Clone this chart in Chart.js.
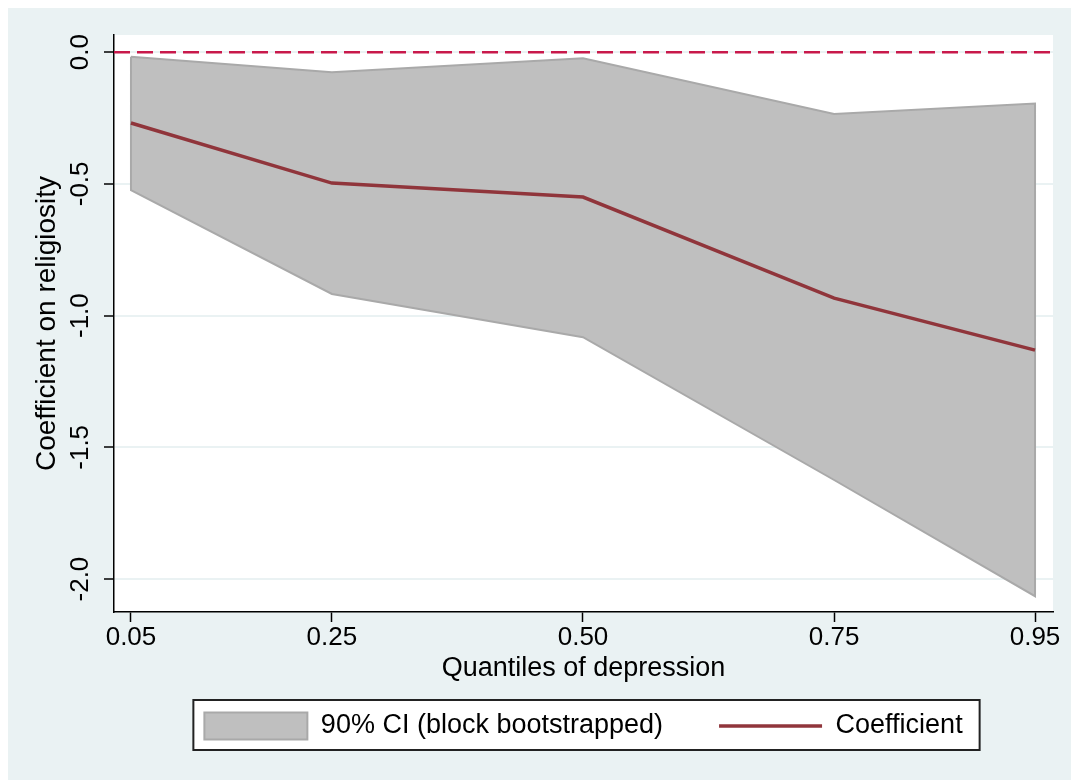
<!DOCTYPE html>
<html>
<head>
<meta charset="utf-8">
<script src="https://cdn.jsdelivr.net/npm/chart.js@4.4.1/dist/chart.umd.min.js"></script>
<style>
  html, body { margin: 0; padding: 0; background: #fff; overflow: hidden; }
  #wrap { position: absolute; left: 8px; top: 8px; width: 1063px; height: 772px; }
</style>
</head>
<body>
<div id="wrap"><canvas id="chart" width="1063" height="772"></canvas></div>
<script>
// values
const quantiles = [0.05, 0.25, 0.50, 0.75, 0.95];
const quantileLabels = ["0.05", "0.25", "0.50", "0.75", "0.95"];
const coefficient = [-0.269, -0.497, -0.550, -0.934, -1.131];
const ciUpper = [-0.018, -0.076, -0.023, -0.235, -0.195];
const ciLower = [-0.524, -0.918, -1.082, -1.624, -2.065];
const yTicks = [-2.0, -1.5, -1.0, -0.5, 0.0];
const yTickLabels = ["-2.0", "-1.5", "-1.0", "-0.5", "0.0"];
const referenceValue = 0;

const xRange = [0.0331, 0.9679];
const yRange = [-2.125, 0.065];

const BG = "#eaf2f3";
const CI_FILL = "#bfbfbf";
const CI_LINE = "#a9a9a9";
const COEF = "#90353b";
const REF = "#c8194b";

Chart.defaults.font.family = "'Liberation Sans', Arial, sans-serif";
Chart.defaults.color = "#000";

const pts = (ys) => quantiles.map((q, i) => ({ x: q, y: ys[i] }));

// outline of the CI band: upper left->right, lower right->left, closed
const ciOutline = pts(ciUpper)
  .concat(pts(ciLower).reverse())
  .concat([{ x: quantiles[0], y: ciUpper[0] }]);

// paints the graph region, plot region and the framed legend box
const backdrop = {
  id: "backdrop",
  beforeDraw(chart) {
    const { ctx, chartArea } = chart;
    ctx.save();
    ctx.fillStyle = BG;
    ctx.fillRect(0, 0, chart.width, chart.height);
    ctx.fillStyle = "#fff";
    ctx.fillRect(chartArea.left, chartArea.top, chartArea.right - chartArea.left, chartArea.bottom - chartArea.top);

    const boxes = chart.legend && chart.legend.legendHitBoxes;
    if (boxes && boxes.length) {
      const left = Math.min(...boxes.map(b => b.left)) - 11;
      const right = Math.max(...boxes.map(b => b.left + b.width)) + 17;
      const top = boxes[0].top - 12.5;
      const bottom = boxes[0].top + boxes[0].height + 10.5;
      ctx.fillStyle = "#fff";
      ctx.fillRect(left, top, right - left, bottom - top);
      ctx.strokeStyle = "#222";
      ctx.lineWidth = 2;
      ctx.strokeRect(left, top, right - left, bottom - top);
    }
    ctx.restore();
  }
};

new Chart(document.getElementById("chart"), {
  type: "line",
  data: {
    datasets: [
      {
        label: "Coefficient",
        data: pts(coefficient),
        borderColor: COEF,
        borderWidth: 3.5,
        pointRadius: 0,
        fill: false,
        order: 1
      },
      {
        label: "zero",
        data: [{ x: xRange[0], y: referenceValue }, { x: xRange[1], y: referenceValue }],
        borderColor: REF,
        borderWidth: 2.5,
        borderDash: [16, 7],
        pointRadius: 0,
        fill: false,
        order: 2
      },
      {
        label: "outline",
        data: ciOutline,
        borderColor: CI_LINE,
        borderWidth: 2,
        pointRadius: 0,
        fill: false,
        order: 3
      },
      {
        label: "lower",
        data: pts(ciLower),
        borderWidth: 0,
        pointRadius: 0,
        fill: false,
        order: 5
      },
      {
        label: "90% CI (block bootstrapped)",
        data: pts(ciUpper),
        borderWidth: 0,
        pointRadius: 0,
        backgroundColor: CI_FILL,
        fill: 3,
        order: 4
      }
    ]
  },
  options: {
    responsive: false,
    animation: false,
    events: [],
    layout: { padding: { top: 27, right: 18, bottom: 30.5, left: 0 } },
    plugins: {
      tooltip: { enabled: false },
      legend: {
        position: "bottom",
        fullSize: false,
        labels: {
          usePointStyle: true,
          pointStyleWidth: 103,
          boxHeight: 27,
          padding: 56,
          color: "#000",
          font: { size: 27 },
          generateLabels: () => [
            { text: "90% CI (block bootstrapped)", fillStyle: CI_FILL, strokeStyle: CI_LINE, lineWidth: 2, pointStyle: "rect", fontColor: "#000" },
            { text: "Coefficient", fillStyle: COEF, strokeStyle: COEF, lineWidth: 3.5, pointStyle: "line", fontColor: "#000" }
          ]
        }
      }
    },
    scales: {
      x: {
        type: "linear",
        min: xRange[0],
        max: xRange[1],
        afterBuildTicks: (s) => { s.ticks = quantiles.map(v => ({ value: v })); },
        afterFit: (s) => { s.height = 44.5; },
        grid: { drawOnChartArea: false, tickColor: "#000", tickLength: 10, tickWidth: 1.5 },
        border: { color: "#000", width: 1.5 },
        ticks: {
          autoSkip: false,
          maxRotation: 0,
          padding: 0,
          color: "#000",
          font: { size: 26 },
          callback: (v, i) => quantileLabels[i]
        },
        title: {
          display: true,
          text: "Quantiles of depression",
          color: "#000",
          font: { size: 27 },
          padding: { top: 0, bottom: -28.7 }
        }
      },
      y: {
        type: "linear",
        min: yRange[0],
        max: yRange[1],
        afterBuildTicks: (s) => { s.ticks = yTicks.map(v => ({ value: v })); },
        afterFit: (s) => { s.width = 106; },
        grid: { color: BG, lineWidth: 2, tickColor: "#000", tickLength: 10, tickWidth: 1.5 },
        border: { color: "#000", width: 1.5 },
        ticks: {
          autoSkip: false,
          minRotation: 90,
          maxRotation: 90,
          crossAlign: "center",
          padding: 1,
          color: "#000",
          font: { size: 26 },
          callback: (v, i) => yTickLabels[i]
        },
        title: {
          display: true,
          text: "Coefficient on religiosity",
          color: "#000",
          font: { size: 28 },
          padding: { top: 22, bottom: 0 }
        }
      }
    }
  },
  plugins: [backdrop]
});
</script>
</body>
</html>
